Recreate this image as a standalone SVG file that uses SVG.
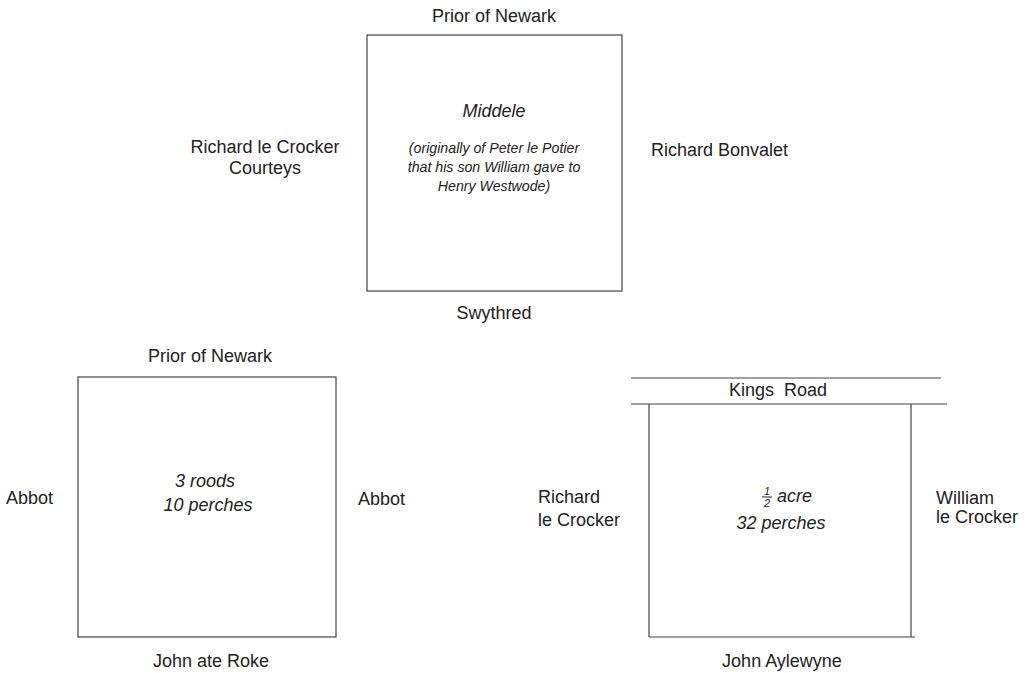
<svg xmlns="http://www.w3.org/2000/svg" width="1031" height="673" viewBox="0 0 1031 673">
<style>
text{font-family:"Liberation Sans",Arial,sans-serif;fill:#222;font-size:18px}
.c{text-anchor:middle}
.i{font-style:italic}
.s{font-size:14.2px}
.f{font-size:11px}
.ln{stroke:#444;stroke-width:1.2;fill:none}
</style>
<rect width="1031" height="673" fill="#fff"/>
<g id="plot-middele">
<rect class="ln" x="367" y="35" width="255" height="256"/>
<text class="c" x="494" y="22">Prior of Newark</text>
<text class="c i" x="494" y="117">Middele</text>
<text class="c i s" x="494" y="153">(originally of Peter le Potier</text>
<text class="c i s" x="494" y="172">that his son William gave to</text>
<text class="c i s" x="494" y="191">Henry Westwode)</text>
<text class="c" x="494" y="319">Swythred</text>
<text class="c" x="265" y="153">Richard le Crocker</text>
<text class="c" x="265" y="174">Courteys</text>
<text x="651" y="156">Richard Bonvalet</text>
</g>
<g id="plot-roods">
<rect class="ln" x="78" y="377" width="258" height="260"/>
<text class="c" x="210" y="362">Prior of Newark</text>
<text class="c i" x="205" y="487">3 roods</text>
<text class="c i" x="208" y="511">10 perches</text>
<text x="6" y="504">Abbot</text>
<text x="358" y="505">Abbot</text>
<text class="c" x="211" y="667">John ate Roke</text>
</g>
<g id="plot-acre">
<line class="ln" x1="631" y1="378" x2="941" y2="378"/>
<line class="ln" x1="631" y1="404" x2="947" y2="404"/>
<line class="ln" x1="649" y1="404" x2="649" y2="637"/>
<line class="ln" x1="911" y1="404" x2="911" y2="637"/>
<line class="ln" x1="649" y1="637" x2="915" y2="637"/>
<text class="c" x="778" y="396">Kings&#160; Road</text>
<text x="538" y="503">Richard</text>
<text x="538" y="526">le Crocker</text>
<text x="936" y="504">William</text>
<text x="936" y="523">le Crocker</text>
<text class="c i f" x="767" y="495">1</text>
<line x1="762" y1="497" x2="772" y2="497" stroke="#222" stroke-width="1"/>
<text class="c i f" x="767" y="507">2</text>
<text class="i" x="777" y="502">acre</text>
<text class="c i" x="781" y="529">32 perches</text>
<text class="c" x="782" y="667">John Aylewyne</text>
</g>
<g id="connectors"></g>
</svg>
